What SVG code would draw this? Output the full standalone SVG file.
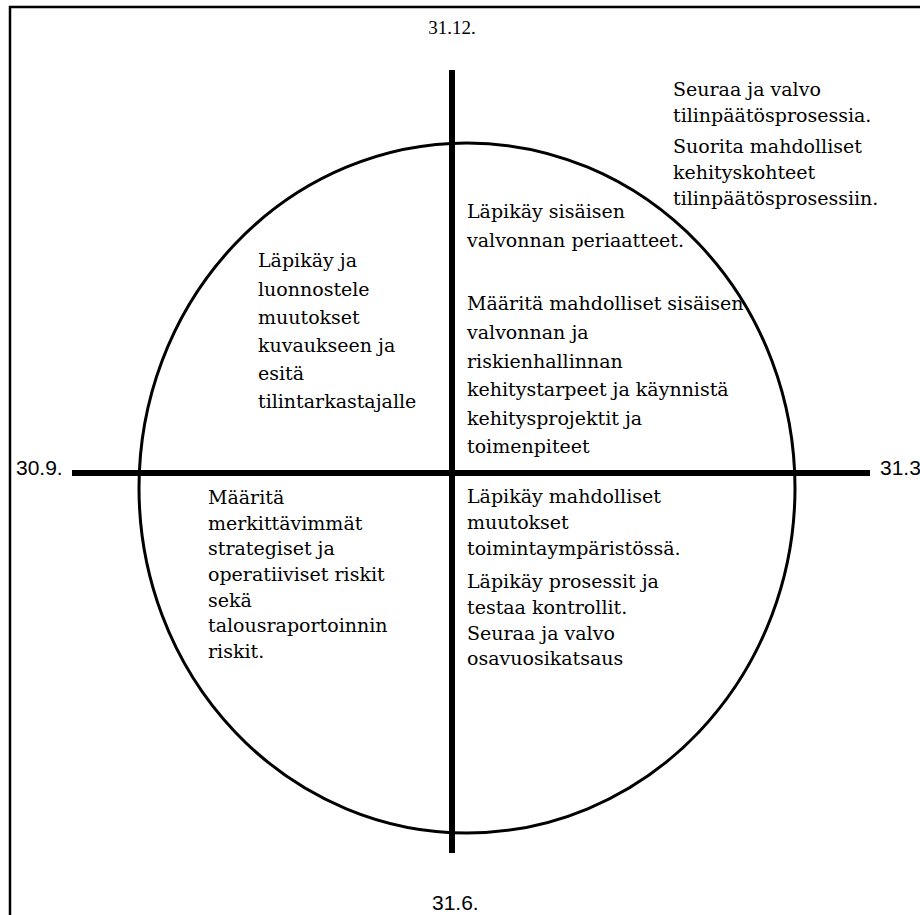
<svg xmlns="http://www.w3.org/2000/svg" width="920" height="915" viewBox="0 0 920 915">
<style>
.t{font-family:"DejaVu Serif","Liberation Serif",serif;font-size:19px;fill:#000}
.lbl{font-family:"Liberation Sans",Arial,sans-serif;font-size:21px;fill:#000}
.axis{stroke:#000;stroke-width:6;fill:none}
</style>
<rect width="920" height="915" fill="#fff"/>
<g id="frame"><path d="M10,915 V7 H920" fill="none" stroke="#000" stroke-width="2.5"/></g>
<g id="cycle"><ellipse cx="467" cy="488" rx="328" ry="345" fill="none" stroke="#000" stroke-width="3"/></g>
<g id="axes">
<line class="axis" x1="452" y1="70" x2="452" y2="853"/>
<line class="axis" x1="72" y1="473" x2="870" y2="473"/>
</g>
<g id="label-top"><text x="452" y="34" text-anchor="middle" style="font-family:'Liberation Serif',serif;font-size:19px">31.12.</text></g>
<g id="label-left"><text class="lbl" x="16" y="475">30.9.</text></g>
<g id="label-right"><text class="lbl" x="880" y="475">31.3</text></g>
<g id="label-bottom"><text class="lbl" x="432" y="910">31.6.</text></g>
<g id="q-topright-outside">
<text class="t" x="673" y="96">Seuraa  ja valvo</text>
<text class="t" x="673" y="122">tilinpäätösprosessia.</text>
<text class="t" x="673" y="153">Suorita mahdolliset</text>
<text class="t" x="673" y="179">kehityskohteet</text>
<text class="t" x="673" y="205">tilinpäätösprosessiin.</text>
</g>
<g id="q-topright">
<text class="t" x="467" y="218">Läpikäy sisäisen</text>
<text class="t" x="467" y="247">valvonnan periaatteet.</text>
<text class="t" x="467" y="310">Määritä mahdolliset sisäisen</text>
<text class="t" x="467" y="339">valvonnan ja</text>
<text class="t" x="467" y="368">riskienhallinnan</text>
<text class="t" x="467" y="396">kehitystarpeet ja käynnistä</text>
<text class="t" x="467" y="425">kehitysprojektit ja</text>
<text class="t" x="467" y="453">toimenpiteet</text>
</g>
<g id="q-topleft">
<text class="t" x="258" y="267">Läpikäy ja</text>
<text class="t" x="258" y="296">luonnostele</text>
<text class="t" x="258" y="324">muutokset</text>
<text class="t" x="258" y="352">kuvaukseen ja</text>
<text class="t" x="258" y="380">esitä</text>
<text class="t" x="258" y="408">tilintarkastajalle</text>
</g>
<g id="q-bottomleft">
<text class="t" x="208" y="504">Määritä</text>
<text class="t" x="208" y="530">merkittävimmät</text>
<text class="t" x="208" y="555">strategiset ja</text>
<text class="t" x="208" y="581">operatiiviset riskit</text>
<text class="t" x="208" y="607">sekä</text>
<text class="t" x="208" y="632">talousraportoinnin</text>
<text class="t" x="208" y="658">riskit.</text>
</g>
<g id="q-bottomright">
<text class="t" x="467" y="503">Läpikäy mahdolliset</text>
<text class="t" x="467" y="529">muutokset</text>
<text class="t" x="467" y="555">toimintaympäristössä.</text>
<text class="t" x="467" y="588">Läpikäy prosessit ja</text>
<text class="t" x="467" y="614">testaa kontrollit.</text>
<text class="t" x="467" y="640">Seuraa ja valvo</text>
<text class="t" x="467" y="665">osavuosikatsaus</text>
</g>
</svg>
